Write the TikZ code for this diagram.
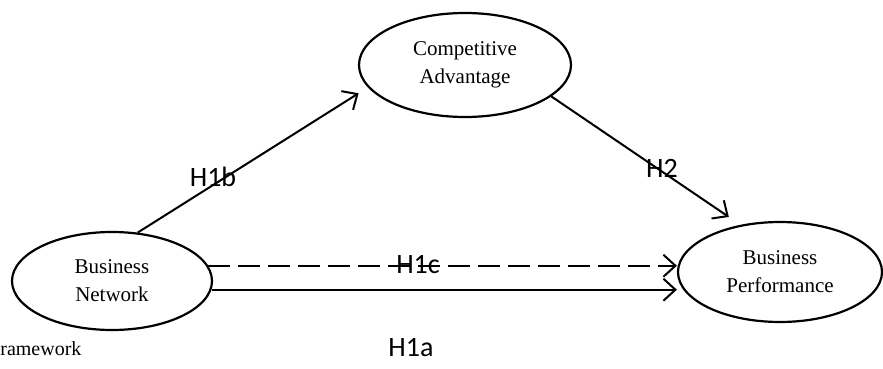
\documentclass[tikz,border=0pt]{standalone}
\usepackage{fontspec}
\setmainfont{Liberation Serif}
\newfontfamily\hypfont{Carlito}
\usetikzlibrary{shapes.geometric,arrows.meta}

\begin{document}
\begin{tikzpicture}[x=0.5pt,y=-0.5pt,
		construct/.style={ellipse,draw,line width=1.1pt,minimum width=102pt,minimum height=51pt,inner sep=0pt,align=center,font=\fontsize{10.5}{14}\selectfont},
		path/.style={line width=1pt,-{Straight Barb[length=6pt,width=11pt,line width=1pt]}},
		hyp/.style={font=\hypfont\fontsize{14}{16}\selectfont,inner sep=0pt}]
	\useasboundingbox (0,0) rectangle (883,369);

	\node[construct,minimum width=100pt,minimum height=49pt] (bn) at (112,281) {Business\\Network};
	\node[construct,minimum width=106pt,minimum height=52pt] (ca) at (465,65) {Competitive\\Advantage};
	\node[construct,minimum height=50pt] (bp) at (780,272) {Business\\Performance};

	\draw[path,shorten >=5.5pt] (bn.62) -- (ca.193);
	\draw[path,shorten >=7pt] (ca.-20) -- (bp.130);
	\draw[path,dash pattern=on 11pt off 4pt] (bn.9) -- (bn.9 -| bp.west);
	\draw[path] (bn.-5) -- (bn.-5 -| bp.west);

	\node[hyp] (h1b) at (213,177) {H1b};
	\node[hyp] (h2) at (662,168) {H2};
	\node[hyp] (h1c) at (418,265) {H1c};
	\node[hyp] (h1a) at (411,348) {H1a};

	\node[anchor=base west,inner sep=0pt,font=\fontsize{10}{12}\selectfont] (fig) at (0,355) {ramework};
\end{tikzpicture}
\end{document}
